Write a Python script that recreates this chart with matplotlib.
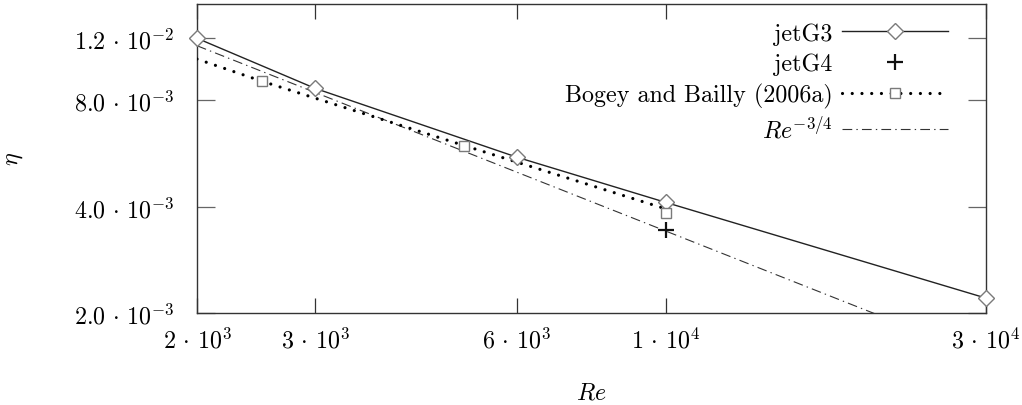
import matplotlib
matplotlib.use("Agg")
import matplotlib.pyplot as plt
from matplotlib.ticker import FixedLocator, FixedFormatter, NullLocator
from matplotlib.legend_handler import HandlerTuple

plt.rcParams['font.family'] = ['cmr10', 'DejaVu Serif']
plt.rcParams['mathtext.fontset'] = 'cm'
plt.rcParams['axes.unicode_minus'] = False
plt.rcParams['lines.scale_dashes'] = False

# ---- data ----
jetG3_re = [2000, 3000, 6000, 10000, 30000]
jetG3_eta = [1.2e-2, 8.66e-3, 5.53e-3, 4.12e-3, 2.21e-3]

jetG4_re = [10000]
jetG4_eta = [3.45e-3]

bogey_line_re = [2000, 2500, 5000, 10000]
bogey_line_eta = [1.048e-2, 9.07e-3, 5.97e-3, 3.95e-3]
bogey_pts_re = [2500, 5000, 10000]
bogey_pts_eta = [9.10e-3, 5.94e-3, 3.84e-3]

power_re = [2000, 30000]
power_eta = [1.143e-2, 1.50e-3]

xticks = [2e3, 3e3, 6e3, 1e4, 3e4]
xticklabels = [r'$2\,\cdot\,10^{3}$', r'$3\,\cdot\,10^{3}$', r'$6\,\cdot\,10^{3}$',
               r'$1\,\cdot\,10^{4}$', r'$3\,\cdot\,10^{4}$']
yticks = [2.0e-3, 4.0e-3, 8.0e-3, 1.2e-2]
yticklabels = [r'$2.0\,\cdot\,10^{-3}$', r'$4.0\,\cdot\,10^{-3}$',
               r'$8.0\,\cdot\,10^{-3}$', r'$1.2\,\cdot\,10^{-2}$']

FS = 17.3
fig = plt.figure(figsize=(10.22, 4.06), dpi=100)
ax = fig.add_axes([197/1022, 1-314.3/406, (985.5-197)/1022, (314.3-4.7)/406])
ax.set_xscale('log')
ax.set_yscale('log')
ax.set_xlim(2000, 30000)
ax.set_ylim(2.0e-3, 1.503e-2)

line_col = '#222222'
mk_col = '#7a7a7a'

h1, = ax.plot(jetG3_re, jetG3_eta, '-', color=line_col, lw=1.0, marker='D',
              ms=8.5, mfc='white', mec=mk_col, mew=1.0, zorder=4, clip_on=False)
h2, = ax.plot(jetG4_re, jetG4_eta, linestyle='none', marker='+', ms=12,
              mew=1.6, color='#111111', zorder=5)
h3l, = ax.plot(bogey_line_re, bogey_line_eta, color='black', lw=2.3,
               dash_capstyle='round', zorder=3)
h3l.set_dashes((0.01, 7.0))
h3m, = ax.plot(bogey_pts_re, bogey_pts_eta, linestyle='none', marker='s',
               ms=7.5, mfc='white', mec=mk_col, mew=1.0, zorder=4)
h4, = ax.plot(power_re, power_eta, color='#333333', lw=0.8, zorder=2)
h4.set_dashes((7.0, 3.0, 1.0, 3.0))

for s in ax.spines.values():
    s.set_color('#333333')
    s.set_linewidth(1.0)

ax.xaxis.set_major_locator(FixedLocator(xticks))
ax.xaxis.set_major_formatter(FixedFormatter(xticklabels))
ax.xaxis.set_minor_locator(NullLocator())
ax.yaxis.set_major_locator(FixedLocator(yticks))
ax.yaxis.set_major_formatter(FixedFormatter(yticklabels))
ax.yaxis.set_minor_locator(NullLocator())

ax.tick_params(axis='x', which='major', direction='in', top=True, bottom=True,
               length=10.8, width=0.9, color='#333333', labelsize=FS, pad=10)
ax.tick_params(axis='y', which='major', direction='in', left=True, right=True,
               length=13, width=0.9, color='#666666', labelsize=FS, pad=16)

ax.set_xlabel(r'$Re$', fontsize=FS, labelpad=21)
ax.set_ylabel(r'$\eta$', fontsize=FS, labelpad=35)

leg = ax.legend([h1, h2, (h3l, h3m), h4],
                ['jetG3', 'jetG4', 'Bogey and Bailly (2006a)', r'$Re^{-3/4}$'],
                handler_map={tuple: HandlerTuple(ndivide=1)},
                loc='upper right', bbox_to_anchor=(0.952, 0.94),
                frameon=False, markerfirst=False, numpoints=1,
                fontsize=FS, handlelength=4.4, handletextpad=0.4,
                labelspacing=0.33, borderaxespad=0, borderpad=0)

fig.savefig('out.png', dpi=100)
